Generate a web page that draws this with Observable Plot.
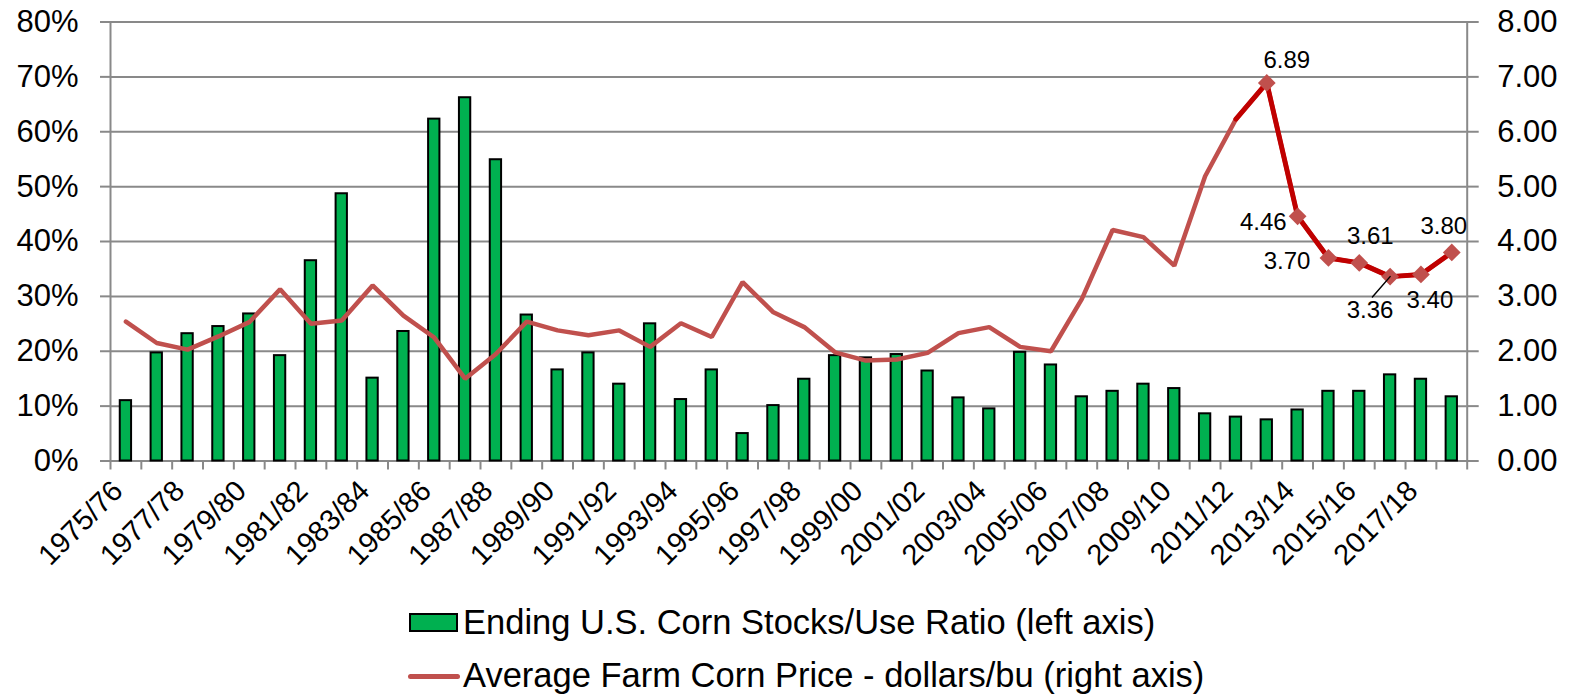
<!DOCTYPE html>
<html><head><meta charset="utf-8">
<script src="https://cdn.jsdelivr.net/npm/d3@7"></script>
<script src="https://cdn.jsdelivr.net/npm/@observablehq/plot@0.6"></script>
<style>
body{margin:0;background:#fff;font-family:"Liberation Sans",Arial,sans-serif;color:#000;}
#wrap{position:relative;width:1579px;height:695px;overflow:hidden;}
#legend{position:relative;height:95px;}
.sw{position:absolute;left:409px;top:13px;width:45px;height:15px;background:#00B050;border:2px solid #000;}
.ln{position:absolute;left:408px;top:74px;width:52px;height:5px;background:#C0504D;border-radius:3px;}
.lt{position:absolute;left:463px;font-size:34.5px;line-height:34px;white-space:nowrap;}
</style></head><body><div id="wrap"><div id="chart"></div>
<div id="legend">
  <div class="sw"></div><div class="lt" id="t1" style="top:5px"></div>
  <div class="ln"></div><div class="lt" id="t2" style="top:58px"></div>
</div></div>
<script>
const years = ["1975/76","1976/77","1977/78","1978/79","1979/80","1980/81","1981/82","1982/83","1983/84","1984/85",
"1985/86","1986/87","1987/88","1988/89","1989/90","1990/91","1991/92","1992/93","1993/94","1994/95",
"1995/96","1996/97","1997/98","1998/99","1999/00","2000/01","2001/02","2002/03","2003/04","2004/05",
"2005/06","2006/07","2007/08","2008/09","2009/10","2010/11","2011/12","2012/13","2013/14","2014/15",
"2015/16","2016/17","2017/18","2018/19"];
// Ending stocks/use ratio, percent (left axis)
const stocksUse = [11.0,19.7,23.2,24.5,26.8,19.2,36.5,48.7,15.1,23.6,
62.3,66.2,54.9,26.6,16.6,19.7,14.0,25.0,11.2,16.6,
5.0,10.1,14.9,19.2,18.8,19.4,16.4,11.5,9.5,19.8,
17.5,11.7,12.7,14.0,13.2,8.6,8.0,7.5,9.3,12.7,
12.7,15.7,14.9,11.7];
// Average farm price, dollars/bu (right axis)
const price = [2.54,2.15,2.03,2.27,2.53,3.13,2.50,2.56,3.20,2.65,
2.25,1.50,1.95,2.54,2.38,2.29,2.38,2.08,2.51,2.26,
3.26,2.71,2.44,1.98,1.83,1.85,1.97,2.33,2.44,2.08,
2.00,2.95,4.21,4.08,3.56,5.19,6.23,6.89,4.46,3.70,
3.61,3.36,3.40,3.80];
const leftTicks = [0,10,20,30,40,50,60,70,80];        // percent
const rightTicks = [0,1,2,3,4,5,6,7,8];               // dollars
const highlightFrom = "2011/12";
const labeledFrom = "2012/13";
const legendLabels = ["Ending U.S. Corn Stocks/Use Ratio (left axis)",
  "Average Farm Corn Price - dollars/bu (right axis)"];

document.getElementById("t1").textContent = legendLabels[0];
document.getElementById("t2").textContent = legendLabels[1];

const data = years.map((y,i)=>({year:y, ratio:stocksUse[i], price:price[i]}));
const hi = data.slice(years.indexOf(highlightFrom));
const lab = data.slice(years.indexOf(labeledFrom));

const W = 1579, H = 600, mL = 110, mR = 112.3, mT = 21.5, mB = 139.5;
const step = (W - mL - mR) / years.length;
const font = "Liberation Sans, Arial, sans-serif";
const grid = "#898989";

// label placement styles per labeled point
const labelStyle = {
  "2012/13": {dx: 20, dy: -23, textAnchor: "middle"},
  "2013/14": {dx: -11, dy: 6, textAnchor: "end"},
  "2014/15": {dx: -18, dy: 3, textAnchor: "end"},
  "2015/16": {dx: 11, dy: -27, textAnchor: "middle"},
  "2016/17": {dx: -20, dy: 34, textAnchor: "middle"},
  "2017/18": {dx: 9, dy: 26, textAnchor: "middle"},
  "2018/19": {dx: -8, dy: -26, textAnchor: "middle"}
};
const leader = {draw(ctx, l){ ctx.moveTo(0,0); ctx.lineTo(0,-l); }};

const ratioToY = d => d;            // y scale in percent
const priceToY = d => d * 10;       // dollars -> percent position

const marks = [
  Plot.ruleY(leftTicks, {stroke: grid, strokeWidth: 2}),
  Plot.axisY({anchor:"left", label: null, ticks: leftTicks, tickSize: 10, tickPadding: 22,
    tickFormat: d => d + "%", fontSize: 31, stroke: grid, strokeWidth: 2, fill: "#000"}),
  Plot.axisY({anchor:"right", label: null, ticks: rightTicks.map(priceToY), tickSize: 11, tickPadding: 19,
    tickFormat: d => (d/10).toFixed(2), fontSize: 31, stroke: grid, strokeWidth: 2, fill: "#000"}),
  Plot.axisX({label: null, tickSize: 9, tickFormat: () => "", dx: -step/2, stroke: grid, strokeWidth: 2}),
  Plot.axisX({label: null, ticks: [years[years.length-1]], tickSize: 9, tickFormat: () => "", dx: step/2, stroke: grid, strokeWidth: 2}),
  Plot.axisX({label: null, ticks: years.filter((d,i)=>i%2===0), tickSize: 0, tickPadding: 25, tickRotate: -45,
    fontSize: 29, fill: "#000", dx: -8}),
  Plot.frame({stroke: grid, strokeWidth: 2}),
  Plot.barY(data, {x: "year", y: d => ratioToY(d.ratio), fill: "#00B050", stroke: "#000", strokeWidth: 2}),
  Plot.line(data, {x: "year", y: d => priceToY(d.price), stroke: "#C0504D", strokeWidth: 4.5, strokeLinejoin: "miter"}),
  Plot.line(hi, {x: "year", y: d => priceToY(d.price), stroke: "#C00000", strokeWidth: 5}),
  Plot.dot(lab, {x: "year", y: d => priceToY(d.price), symbol: "diamond2", r: 8, fill: "#C0504D", stroke: null}),
  Plot.vector(lab.filter(d => d.year === "2016/17"), {x: "year", y: d => priceToY(d.price), anchor: "start",
    length: 27, rotate: 221, shape: leader, stroke: "#000", strokeWidth: 1.5}),
  ...lab.map(d => Plot.text([d], {x: "year", y: r => priceToY(r.price), text: r => r.price.toFixed(2),
    fontSize: 24, fill: "#000", ...labelStyle[d.year]}))
];

const chart = Plot.plot({
  width: W, height: H,
  marginTop: mT, marginBottom: mB, marginLeft: mL, marginRight: mR,
  style: {fontFamily: font, background: "#fff", color: "#000", overflow: "visible"},
  x: {type: "band", domain: years, paddingInner: 0.633, paddingOuter: 0.3165, label: null},
  y: {domain: [0, 80], label: null},
  marks
});
document.getElementById("chart").append(chart);
</script></body></html>
